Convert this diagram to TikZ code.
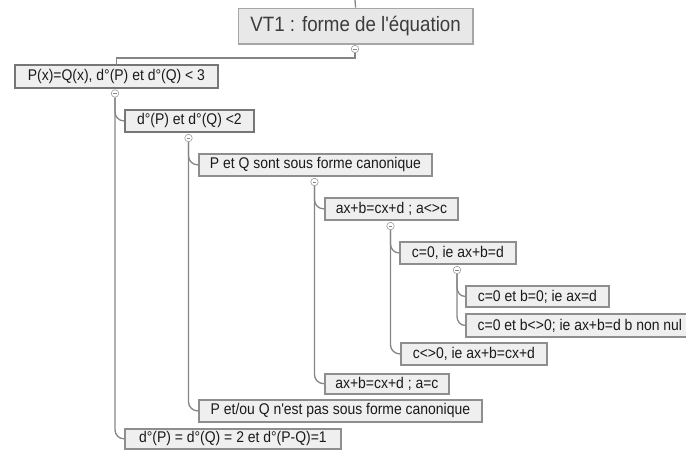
\documentclass[tikz,border=0pt]{standalone}
\usepackage{fontspec}
\newfontfamily\arial{Liberation Sans}
\newfontfamily\arialnarrow{Liberation Sans}[FakeStretch=0.9]
\usetikzlibrary{calc}
\definecolor{boxfill}{HTML}{EFEFEF}
\definecolor{rootfill}{HTML}{E8E8E8}
\definecolor{boxline}{HTML}{8E8E8E}
\definecolor{darkline}{HTML}{767676}
\definecolor{rootline}{HTML}{A6A6A6}
\definecolor{connline}{HTML}{858585}
\definecolor{textcol}{HTML}{1A1A1A}
\newcommand\linkto[2]{\draw[conn] (#1.south) -- ($(#1.south |- #2.west)+(0pt,9pt)$) to[out=-90,in=180] (#2.west);}
\begin{document}
\begin{tikzpicture}[x=1pt,y=-1pt,
  box/.style={draw=boxline, fill=boxfill, line width=1.8pt, inner sep=0pt, anchor=north west, text=textcol, font=\arialnarrow\fontsize{15.5}{17}\selectfont},
  darkbox/.style={box, draw=darkline},
  rootbox/.style={draw=rootline, fill=rootfill, line width=1.2pt, inner sep=0pt, anchor=north west, text=textcol!85, font=\arialnarrow\fontsize{20.8}{24}\selectfont},
  conn/.style={draw=connline, line width=1.3pt},
  circ/.style={circle, draw=connline!80, fill=white, line width=0.6pt, minimum size=7.5pt, inner sep=0pt,
    path picture={\draw[connline, line width=0.5pt] ([xshift=-1.7pt]path picture bounding box.center) -- ([xshift=1.7pt]path picture bounding box.center);}}
]
\useasboundingbox (0,0) rectangle (686,450);

% nodes
\node[rootbox, minimum width=234.8pt, minimum height=35.8pt] (root) at (237.6,7.6) {VT1 : forme de l'équation};
\node[darkbox, minimum width=203.2pt, minimum height=23.2pt] (b1) at (13.9,63.9) {P(x)=Q(x), d°(P) et d°(Q) < 3};
\node[darkbox, minimum width=129.2pt, minimum height=22.2pt] (b2) at (123.9,108.9) {d°(P) et d°(Q) <2};
\node[box, minimum width=233.2pt, minimum height=22.2pt] (b3) at (197.9,152.9) {P et Q sont sous forme canonique};
\node[box, minimum width=133.2pt, minimum height=22.2pt] (b4) at (323.9,196.9) {ax+b=cx+d ; a<>c};
\node[box, minimum width=116.2pt, minimum height=22.2pt] (b5) at (398.9,240.9) {c=0, ie ax+b=d};
\node[box, minimum width=143.2pt, minimum height=21.2pt] (b6) at (464.9,284.9) {c=0 et b=0; ie ax=d};
\node[box, minimum width=228.2pt, minimum height=23.2pt] (b7) at (464.9,312.9) {c=0 et b<>0; ie ax+b=d b non nul};
\node[box, minimum width=146.2pt, minimum height=22.2pt] (b8) at (399.9,341.9) {c<>0, ie ax+b=cx+d};
\node[box, minimum width=124.2pt, minimum height=19.8pt] (b9) at (323.9,372.9) {ax+b=cx+d ; a=c};
\node[box, minimum width=283.2pt, minimum height=22.2pt] (b10) at (197.9,398.9) {P et/ou Q n'est pas sous forme canonique};
\node[box, minimum width=216.2pt, minimum height=20pt] (b11) at (123.9,427.9) {d°(P) = d°(Q) = 2 et d°(P-Q)=1};

% collapse buttons
\node[circ] (c0) at (355,49) {};
\node[circ] (c1) at (115,93.5) {};
\node[circ] (c2) at (188.5,138) {};
\node[circ] (c3) at (314.5,182) {};
\node[circ] (c4) at (390.5,226) {};
\node[circ] (c5) at (457,270) {};

% connectors
\coordinate (top) at (355,0);
\draw[conn] (top) -- (root.north);
\draw[conn] (c0.south) -- ++(0,5) -| (b1.north);
\linkto{c1}{b2}
\linkto{c1}{b11}
\linkto{c2}{b3}
\linkto{c2}{b10}
\linkto{c3}{b4}
\linkto{c3}{b9}
\linkto{c4}{b5}
\linkto{c4}{b8}
\linkto{c5}{b6}
\linkto{c5}{b7}
\end{tikzpicture}
\end{document}
